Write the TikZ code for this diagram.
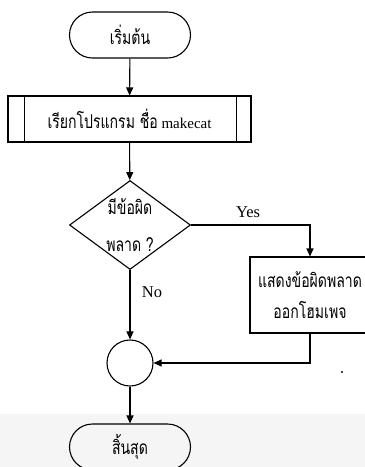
\documentclass[tikz,border=0pt]{standalone}
\usepackage{fontspec}
\setmainfont{Liberation Serif}
\newfontfamily\thaifont[Script=Thai,FakeStretch=0.74]{Loma}
\usetikzlibrary{arrows.meta,shapes.geometric,positioning}

\begin{document}
\begin{tikzpicture}[x=1pt,y=-1pt,>={Triangle[length=8pt,width=7pt]},line width=1.1pt,
    every node/.style={font=\fontsize{16.5}{20}\selectfont},
    thai/.style={font=\fontsize{19}{22}\selectfont\thaifont},
    term/.style={draw,rounded corners=23pt,minimum width=121pt,minimum height=46pt,inner sep=0pt},
    box/.style={draw,minimum width=#1,minimum height=46pt,inner sep=0pt,align=center}]
  \useasboundingbox (0,0) rectangle (365,467);
  \fill[black!4] (0,414) rectangle (365,467);
  \node[term,thai] (start) at (130,35) {เริ่มต้น};
  \node[box=243pt,font=\fontsize{15}{19}\selectfont] (call) at (129.5,119)
    {{\fontsize{19}{22}\selectfont\thaifont เรียกโปรแกรม ชื่อ} makecat};
  \draw ([xshift=17pt]call.north west) -- ([xshift=17pt]call.south west);
  \draw ([xshift=-15pt]call.north east) -- ([xshift=-15pt]call.south east);
  \node[draw,thai,diamond,aspect=1.36,minimum width=121pt,minimum height=89pt,inner sep=0pt,align=center]
    (check) at (130,225) {มีข้อผิด\\[15pt]พลาด ?};
  \node[box=120pt,thai,minimum height=76pt] (show) at (310,295)
    {แสดงข้อผิดพลาด\\[9pt]ออกโฮมเพจ};
  \node[draw,circle,minimum size=46pt,inner sep=0pt] (join) at (130,363) {};
  \node[term,thai] (stop) at (130,447) {สิ้นสุด};
  \draw[->] (start) -- (call);
  \draw[->] (call) -- (check);
  \draw[->] (check.east) -| node[pos=0.24,above=3pt] {Yes} (show.north);
  \draw[->] (check.south) -- node[pos=0.32,right=8pt] {No} (join.north);
  \draw[->] (show.south) |- (join.east);
  \draw[->] (join) -- (stop);
  \fill (342,372) circle (1.1pt);
\end{tikzpicture}
\end{document}
